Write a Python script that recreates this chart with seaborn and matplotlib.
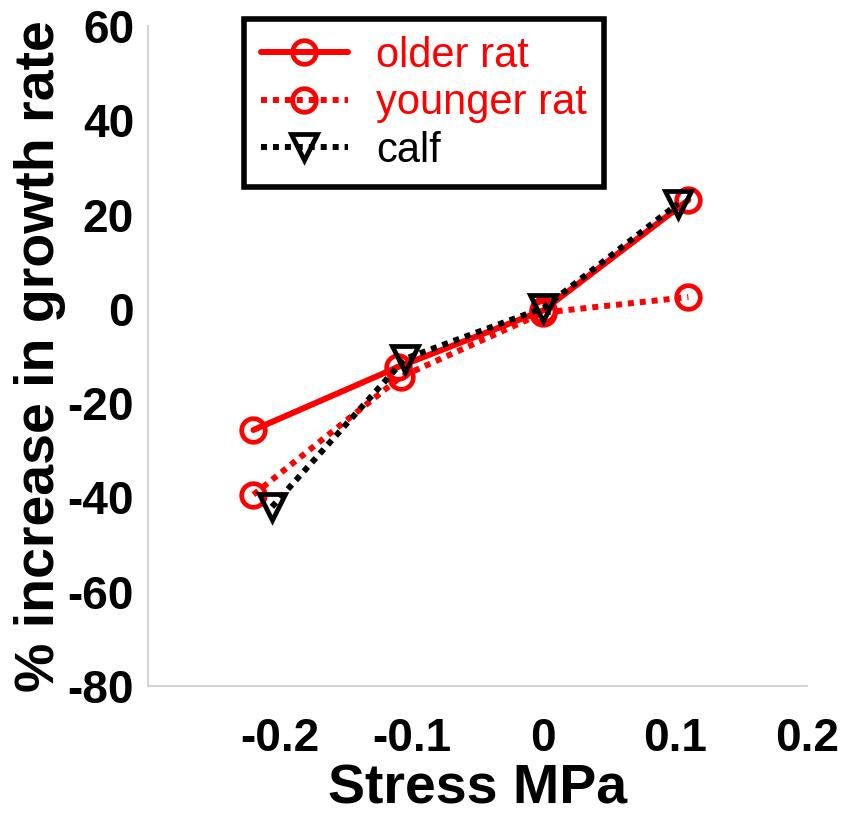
import matplotlib
matplotlib.use("Agg")
import matplotlib.pyplot as plt
import seaborn as sns
import pandas as pd

# Data
x_older = [-0.22, -0.11, 0.0, 0.11]
y_older = [-25.7, -12.3, -0.3, 23.1]
x_younger = [-0.22, -0.108, 0.0, 0.11]
y_younger = [-39.4, -14.4, -0.8, 2.5]
x_calf = [-0.206, -0.105, 0.0, 0.102]
y_calf = [-42.0, -10.6, 0.2, 22.3]

x_ticks = [-0.2, -0.1, 0, 0.1, 0.2]
x_ticklabels = ["-0.2", "-0.1", "0", "0.1", "0.2"]
y_ticks = [-80, -60, -40, -20, 0, 20, 40, 60]

sns.set_style("white")
plt.rcParams['font.family'] = ['Liberation Sans', 'DejaVu Sans']
plt.rcParams['axes.unicode_minus'] = False
plt.rcParams['text.color'] = 'black'
plt.rcParams['axes.labelcolor'] = 'black'
plt.rcParams['xtick.color'] = 'black'
plt.rcParams['ytick.color'] = 'black'

fig = plt.figure(figsize=(8.46, 8.17), dpi=100)
ax = fig.add_axes([148/846, 1-686/817, (807-148)/846, (686-26)/817])

lw = 4.3
mew = 3.4
dot = (0, (1, 1))

series = [
    ("older rat", x_older, y_older, "red", "-", "o", 17),
    ("younger rat", x_younger, y_younger, "red", dot, "o", 17),
    ("calf", x_calf, y_calf, "black", dot, "v", 19),
]
for name, xs, ys, col, ls, mk, ms in series:
    df = pd.DataFrame({"x": xs, "y": ys})
    sns.lineplot(data=df, x="x", y="y", ax=ax, color=col, linestyle=ls,
                 linewidth=lw, marker=mk, markersize=ms, markeredgewidth=mew,
                 markerfacecolor="none", markeredgecolor=col, label=name,
                 sort=False, estimator=None)

ax.set_xlim(-0.3, 0.2)
ax.set_ylim(-80, 60)
ax.set_xticks(x_ticks)
ax.set_xticklabels(x_ticklabels)
ax.set_yticks(y_ticks)

for s in ["top", "right"]:
    ax.spines[s].set_visible(False)
for s in ["left", "bottom"]:
    ax.spines[s].set_color("#cccccc")
    ax.spines[s].set_linewidth(1.2)

ax.tick_params(axis="both", direction="in", length=7, width=1, color="#cccccc",
               labelcolor="black", labelsize=33, pad=10)
for lab in ax.get_xticklabels() + ax.get_yticklabels():
    lab.set_fontweight("bold")
ax.tick_params(axis="x", pad=22)

ax.set_xlabel("Stress MPa", fontsize=40, fontweight="bold", labelpad=2)
ax.set_ylabel("% increase in growth rate", fontsize=40, fontweight="bold")
ax.yaxis.set_label_coords(-0.125, 0.5)

leg = ax.legend(loc="upper left", bbox_to_anchor=(244/846, 1-19/817),
                bbox_transform=fig.transFigure, borderaxespad=0,
                fontsize=30, frameon=True, fancybox=False, framealpha=1,
                handlelength=2.1, handletextpad=0.67, borderpad=0.4,
                labelspacing=0.18)
leg.get_frame().set_edgecolor("black")
leg.get_frame().set_linewidth(4)
for txt, col in zip(leg.get_texts(), ["red", "red", "black"]):
    txt.set_color(col)

ax.grid(False)
fig.savefig("out.png", dpi=100)
